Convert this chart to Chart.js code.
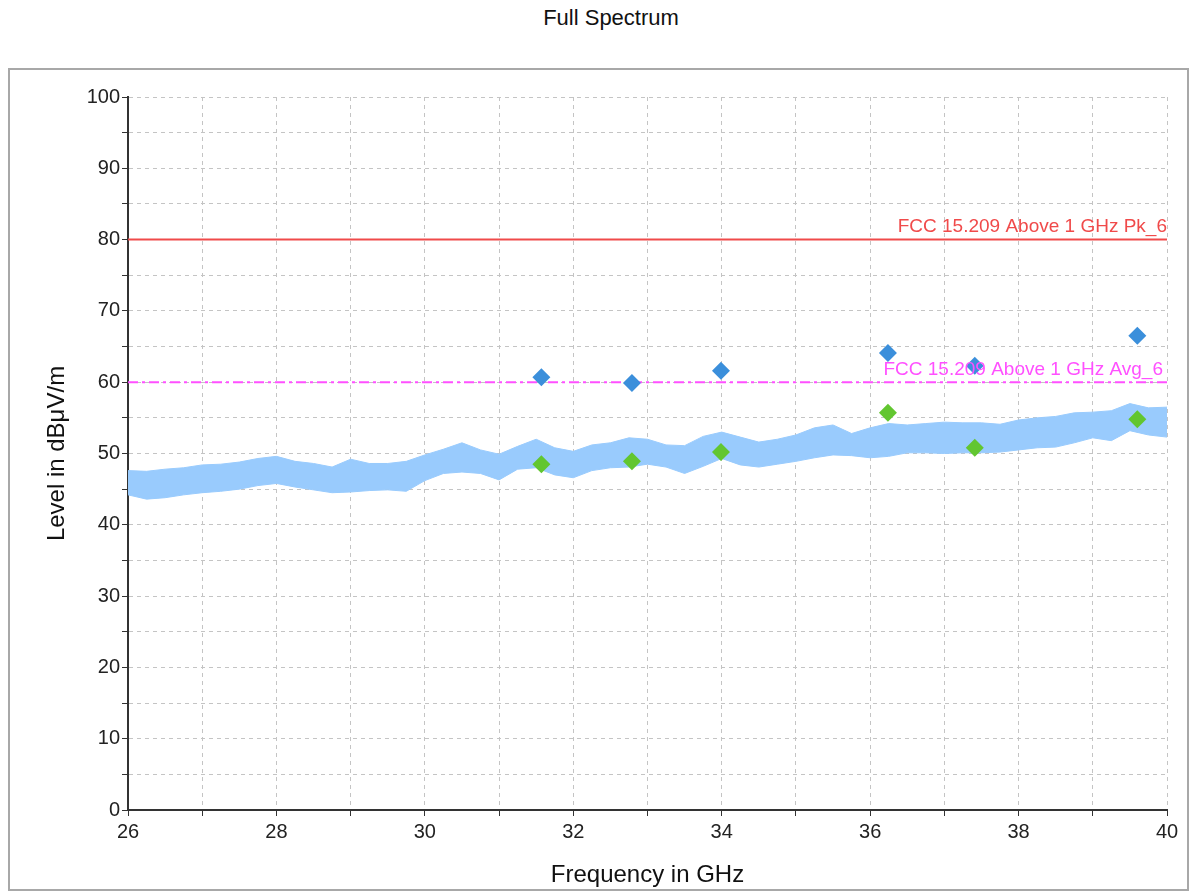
<!DOCTYPE html>
<html>
<head>
<meta charset="utf-8">
<title>Full Spectrum</title>
<script src="https://cdn.jsdelivr.net/npm/chart.js@4.4.1/dist/chart.umd.min.js"></script>
<style>
  html, body { margin: 0; padding: 0; background: #fff; }
  #wrap { position: relative; width: 1193px; height: 892px; }
  #frame { position: absolute; left: 8px; top: 68px; width: 1181px; height: 823px;
           border: 2px solid #a8a8a8; box-sizing: border-box; }
  #title { position: absolute; left: 0; top: 5px; width: 1222px; text-align: center;
           font: 22px "Liberation Sans", Arial, sans-serif; color: #111; }
  #chart { position: absolute; left: 0; top: 0; }
</style>
</head>
<body>
<div id="wrap">
  <div id="frame"></div>
  <div id="title">Full Spectrum</div>
  <canvas id="chart" width="1193" height="892"></canvas>
</div>
<script>
const freqs = [26.00, 26.25, 26.50, 26.75, 27.00, 27.25, 27.50, 27.75, 28.00, 28.25, 28.50, 28.75,
  29.00, 29.25, 29.50, 29.75, 30.00, 30.25, 30.50, 30.75, 31.00, 31.25, 31.50, 31.75,
  32.00, 32.25, 32.50, 32.75, 33.00, 33.25, 33.50, 33.75, 34.00, 34.25, 34.50, 34.75,
  35.00, 35.25, 35.50, 35.75, 36.00, 36.25, 36.50, 36.75, 37.00, 37.25, 37.50, 37.75,
  38.00, 38.25, 38.50, 38.75, 39.00, 39.25, 39.50, 39.75, 40.00];
const traceHigh = [47.6, 47.5, 47.8, 48.0, 48.4, 48.5, 48.8, 49.3, 49.6, 48.9, 48.6, 48.1,
  49.2, 48.6, 48.6, 48.9, 49.8, 50.6, 51.5, 50.5, 49.9, 51.0, 52.0, 50.8,
  50.3, 51.2, 51.5, 52.2, 52.0, 51.2, 51.1, 52.4, 53.0, 52.3, 51.6, 52.0,
  52.6, 53.6, 54.0, 52.8, 53.6, 54.2, 54.0, 54.2, 54.4, 54.3, 54.3, 54.1,
  54.7, 55.0, 55.2, 55.7, 55.8, 56.0, 57.0, 56.4, 56.5];
const traceLow = [44.2, 43.6, 43.8, 44.2, 44.5, 44.7, 45.0, 45.5, 45.8, 45.3, 44.9, 44.5,
  44.6, 44.8, 44.9, 44.7, 46.2, 47.2, 47.4, 47.2, 46.3, 47.8, 48.0, 47.0,
  46.6, 47.6, 48.0, 48.1, 48.5, 48.1, 47.2, 48.2, 49.3, 48.4, 48.1, 48.5,
  48.9, 49.4, 49.8, 49.7, 49.4, 49.6, 50.1, 50.1, 50.0, 50.1, 50.1, 50.2,
  50.5, 50.8, 50.9, 51.5, 52.2, 51.8, 53.2, 52.6, 52.3];

// final measurements
const markerFreqs = [31.57, 32.79, 33.99, 36.24, 37.41, 39.60];
const peakLevels = [60.7, 59.9, 61.6, 64.1, 62.3, 66.5];
const avgLevels = [48.5, 48.9, 50.2, 55.7, 50.8, 54.8];

// limit lines
const limitNames = ["FCC 15.209 Above 1 GHz Pk_6", "FCC 15.209 Above 1 GHz Avg_6"];
const limitLevels = [80, 60];
const limitColors = ["#f04a4a", "#ff50ff"];

const xMin = 26, xMax = 40;
const font = '"Liberation Sans", Arial, sans-serif';

const pts = (xs, ys) => xs.map((x, i) => ({ x: x, y: ys[i] }));

const limitLabels = {
  id: "limitLabels",
  afterDatasetsDraw(chart) {
    const { ctx, chartArea, scales } = chart;
    ctx.save();
    ctx.font = "19px " + font;
    ctx.textAlign = "right";
    ctx.textBaseline = "bottom";
    limitNames.forEach((name, i) => {
      ctx.fillStyle = limitColors[i];
      ctx.fillText(name, chartArea.right - (i ? 4 : 0), scales.y.getPixelForValue(limitLevels[i]) - 3);
    });
    ctx.restore();
  }
};

new Chart(document.getElementById("chart"), {
  type: "scatter",
  data: {
    datasets: [
      {
        label: "Peak",
        data: pts(markerFreqs, peakLevels),
        pointStyle: "rectRot", pointRadius: 9, pointHoverRadius: 9,
        backgroundColor: "#3b8fdb", borderColor: "#3b8fdb", borderWidth: 0,
        order: 0
      },
      {
        label: "Average",
        data: pts(markerFreqs, avgLevels),
        pointStyle: "rectRot", pointRadius: 9, pointHoverRadius: 9,
        backgroundColor: "#62c630", borderColor: "#62c630", borderWidth: 0,
        order: 0
      },
      {
        label: limitNames[0],
        type: "line",
        data: pts([xMin, xMax], [limitLevels[0], limitLevels[0]]),
        borderColor: limitColors[0], borderWidth: 2, pointRadius: 0,
        order: 1
      },
      {
        label: limitNames[1],
        type: "line",
        data: pts([xMin, xMax], [limitLevels[1], limitLevels[1]]),
        borderColor: limitColors[1], borderWidth: 2, borderDash: [10, 4, 3, 4], pointRadius: 0,
        order: 1
      },
      {
        label: "Trace low",
        type: "line",
        data: pts(freqs, traceLow),
        borderColor: "#99cbfd", borderWidth: 1, pointRadius: 0, fill: false,
        order: 3
      },
      {
        label: "Trace high",
        type: "line",
        data: pts(freqs, traceHigh),
        borderColor: "#99cbfd", backgroundColor: "#99cbfd", borderWidth: 1, pointRadius: 0,
        fill: "-1",
        order: 2
      }
    ]
  },
  options: {
    responsive: false,
    animation: false,
    layout: { padding: { left: 0, right: 26, top: 97, bottom: 0 } },
    plugins: {
      legend: { display: false },
      tooltip: { enabled: false }
    },
    scales: {
      x: {
        type: "linear",
        min: xMin, max: xMax,
        afterFit: (s) => { s.height = 82; },
        grid: { color: "#c4c4c4", tickColor: "#333", tickLength: 6, lineWidth: 1 },
        border: { color: "#333", width: 2, dash: [4, 4] },
        ticks: {
          stepSize: 1,
          color: "#222",
          padding: 4,
          font: { family: font, size: 20 },
          callback: (v) => (v % 2 === 0 ? v : "")
        },
        title: {
          display: true,
          text: "Frequency in GHz",
          color: "#111",
          font: { family: font, size: 24 },
          padding: { top: 0, bottom: 2 }
        }
      },
      y: {
        min: 0, max: 100,
        afterFit: (s) => { s.width = 128; },
        grid: { color: "#c4c4c4", tickColor: "#333", tickLength: 6, lineWidth: 1 },
        border: { color: "#333", width: 2, dash: [4, 4] },
        ticks: {
          stepSize: 5,
          color: "#222",
          padding: 2,
          font: { family: font, size: 20 },
          callback: (v) => (v % 10 === 0 ? v : "")
        },
        title: {
          display: true,
          text: "Level in dBμV/m",
          color: "#111",
          font: { family: font, size: 24 },
          padding: { top: 43, bottom: 0 }
        }
      }
    }
  },
  plugins: [limitLabels]
});
</script>
</body>
</html>
